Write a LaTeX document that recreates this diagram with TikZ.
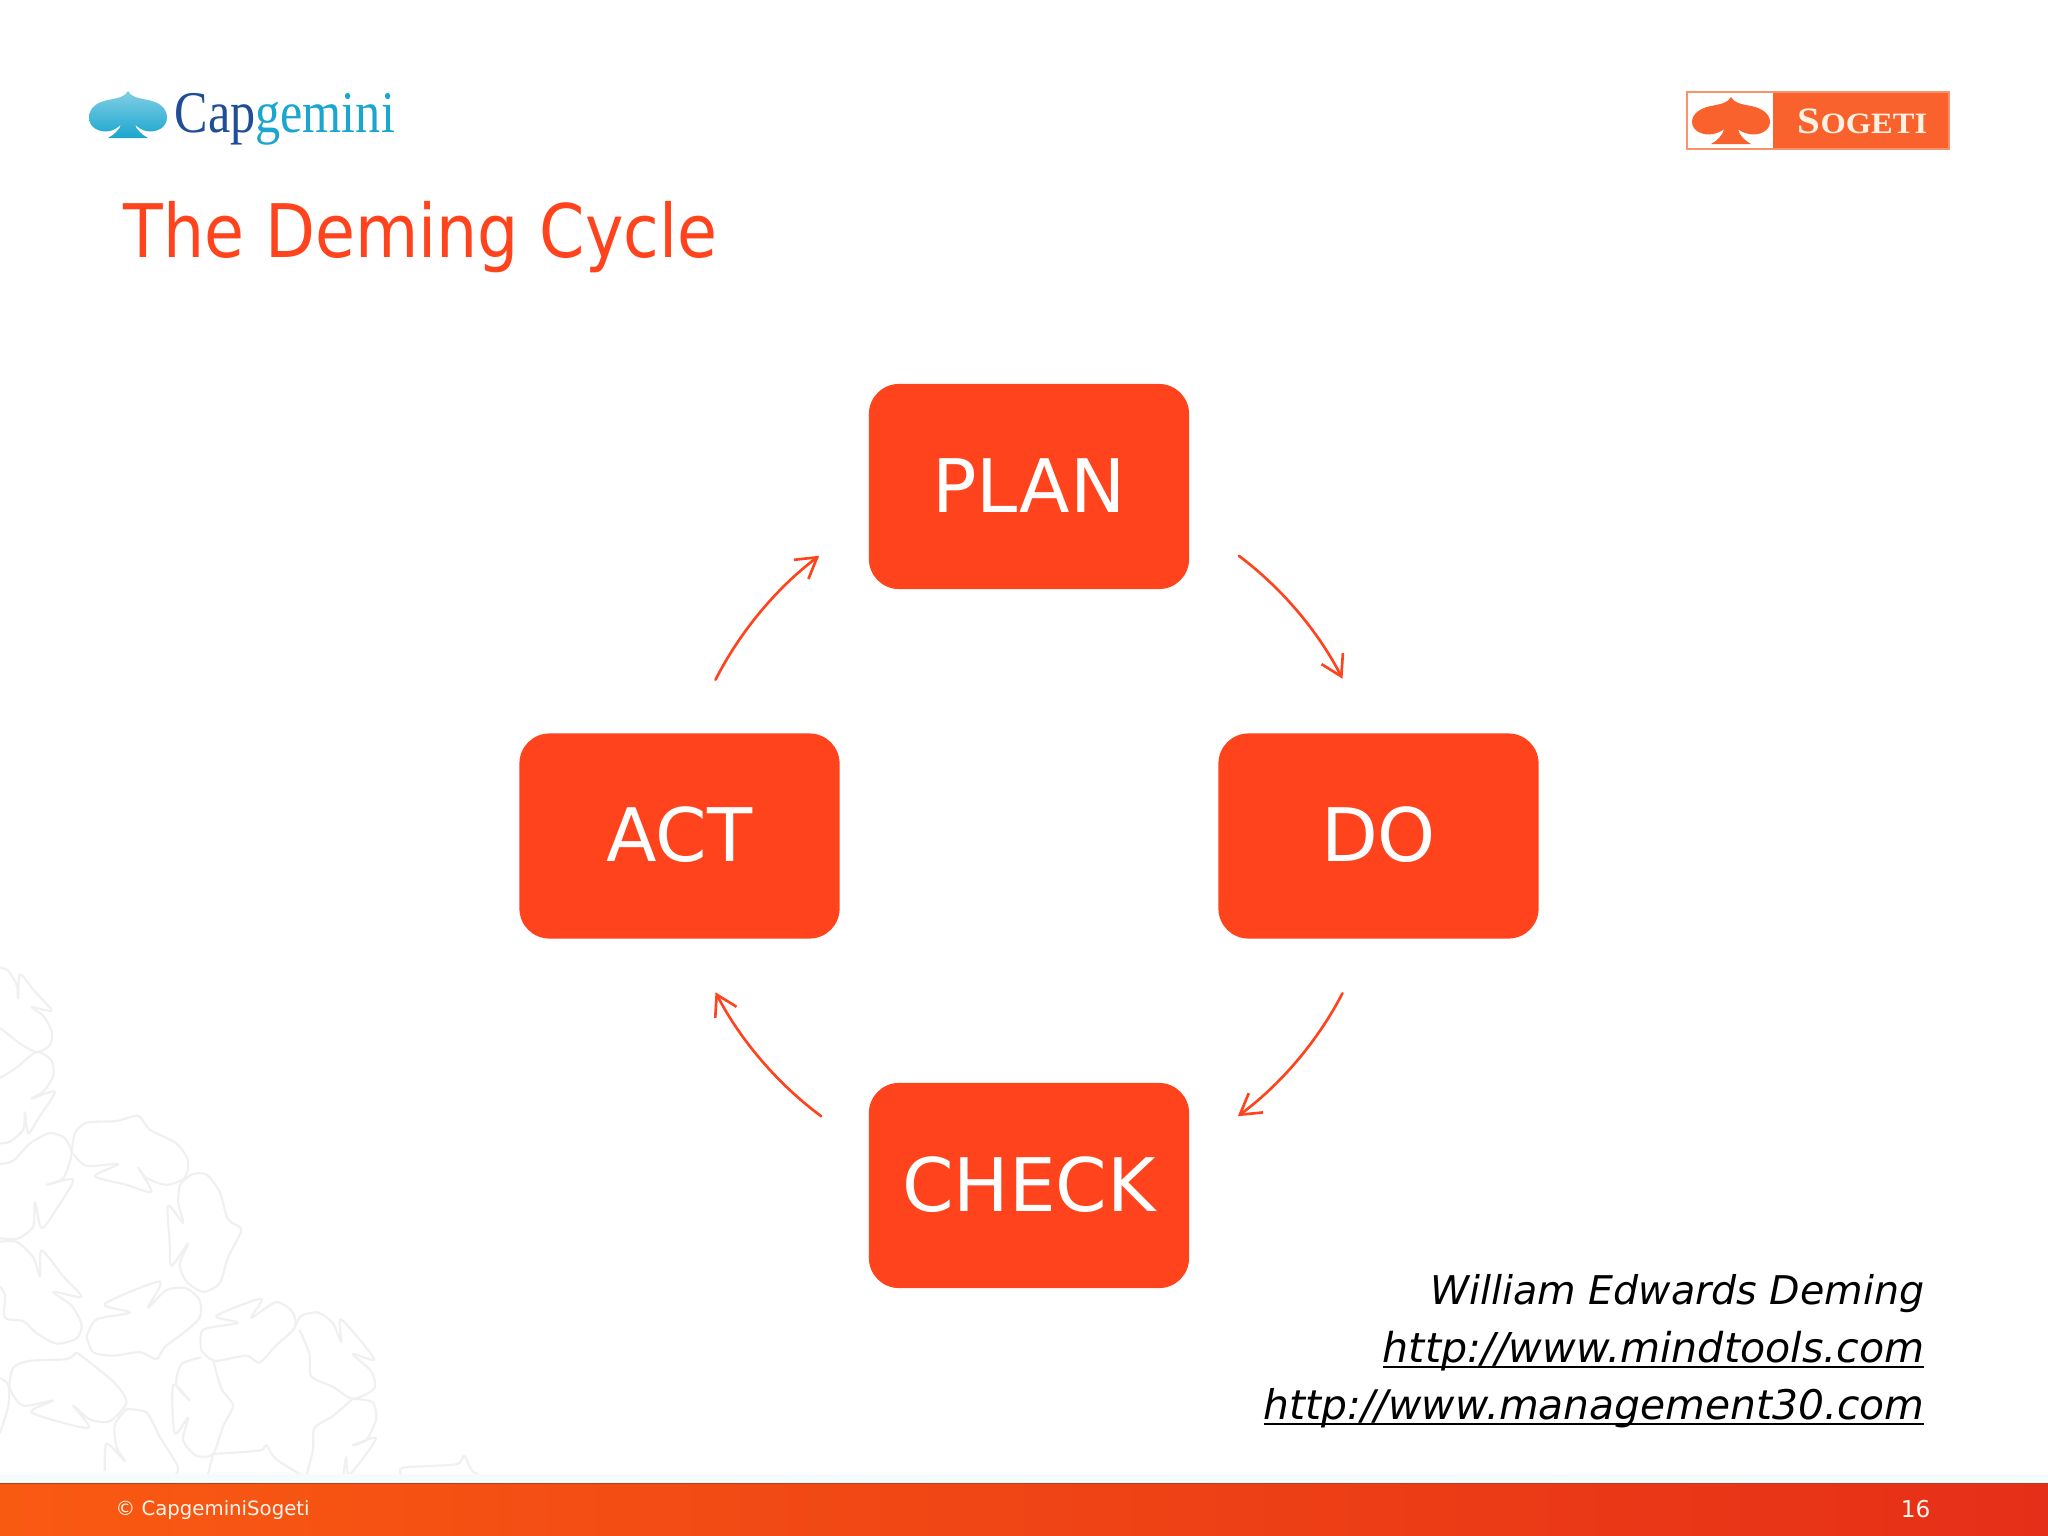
\documentclass[tikz,border=0pt]{standalone}
\usepackage{fontspec}
\usetikzlibrary{arrows.meta,calc,positioning}
\setmainfont{DejaVu Sans}
\newfontfamily\titlefont[FakeStretch=0.88]{DejaVu Sans}
\newfontfamily\logofont{Liberation Serif}
\definecolor{slideorange}{HTML}{FF431C}
\definecolor{capdark}{HTML}{1F4E96}
\definecolor{caplight}{HTML}{1BA6CF}
\definecolor{sogorange}{HTML}{F9622C}
\definecolor{swirlgrey}{HTML}{F0F0F0}
\definecolor{footleft}{HTML}{F95A12}
\definecolor{footmid}{HTML}{EC5520}
\definecolor{footright}{HTML}{E62F18}
% spade of both logos: x pos, y pos, fill options, extra lobe depth
\newcommand{\spadeicon}[4]{
  \path[#3, shift={(#1,#2)}] (0,0) .. controls (3,6) and (10,7) .. (20,9)
    .. controls (31,11) and (39,17) .. (39,{24+#4/2})
    .. controls (39,{32+#4}) and (28,{37+#4}) .. (18,{35+#4})
    .. controls (13,{34+#4}) and (9,{33+#4/2}) .. (7,{31+#4/2})
    .. controls (8,38) and (14,44) .. (20,47) -- (-20,47)
    .. controls (-14,44) and (-8,38) .. (-7,{31+#4/2})
    .. controls (-9,{33+#4/2}) and (-13,{34+#4}) .. (-18,{35+#4})
    .. controls (-28,{37+#4}) and (-39,{32+#4}) .. (-39,{24+#4/2})
    .. controls (-39,17) and (-31,11) .. (-20,9)
    .. controls (-10,7) and (-3,6) .. (0,0) -- cycle;
}
\tikzset{
  cyclebox/.style={rectangle, rounded corners=0.3cm, fill=slideorange, text=white,
    minimum width=3.2cm, minimum height=2.05cm, inner sep=0pt,
    text height=0.54cm, text depth=0.03cm, font=\fontsize{21}{25}\selectfont},
  cyclearrow/.style={draw=slideorange, line width=0.75pt, line cap=round, bend left=13, looseness=0.85,
    -{Straight Barb[length=2mm, width=2.4mm, line width=0.75pt]}},
  swirl/.style={draw=swirlgrey, line width=0.6pt, line join=round, smooth, tension=0.45},
  refline/.style={anchor=base east, inner sep=0pt, font=\itshape\fontsize{11.25}{13}\selectfont}
}
\begin{document}
\begin{tikzpicture}[x=0.01cm, y=-0.01cm]
  \def\hubx{1029}
  \def\huby{836}
  \def\hubr{349.5}

  % Fixed bounding box
  \path[use as bounding box, fill=white] (0,0) rectangle (2048,1536);

  % Faint swirl in the lower left corner
  \begin{scope}[x=0.00333cm, y=-0.00345cm, shift={(0,2754)}]
    \clip (0,0) rectangle (1560,1545);
    \draw[swirl] plot coordinates {(0,50) (25,60) (50,100) (55,140) (60,70) (105,120) (155,175) (95,165) (130,190) (155,235) (150,275) (110,295) (60,270) (0,225)};
    \draw[swirl] plot coordinates {(0,370) (50,340) (110,295) (155,320) (160,365) (130,410) (95,430) (165,410) (120,480) (85,530) (75,470) (70,520) (30,555) (0,560)};
    \draw[swirl] plot coordinates {(0,620) (40,610) (90,560) (150,530) (195,545) (215,590) (190,660) (140,680) (220,665) (170,750) (125,805) (105,730) (100,800) (55,835) (0,835)};
    \draw[swirl] plot coordinates {(215,590) (225,530) (260,500) (350,495) (415,480) (450,520) (530,560) (565,610) (555,660) (500,680) (440,660) (415,630) (455,700) (380,680) (285,655) (355,620) (260,625) (220,590)};
    \draw[swirl] plot coordinates {(0,845) (50,845) (100,890) (120,945) (125,870) (190,945) (245,1005) (160,990) (215,1030) (245,1085) (230,1125) (170,1140) (110,1110) (70,1075) (15,1065) (15,1000) (0,975)};
    \draw[swirl] plot coordinates {(540,680) (535,730) (550,790) (505,740) (510,850) (515,915) (565,850) (540,910) (560,960) (610,990) (660,965) (685,890) (725,810) (685,780) (660,700) (620,650) (575,650) (540,680)};
    \draw[swirl] plot coordinates {(260,1120) (290,1070) (390,1050) (315,1025) (480,960) (445,1035) (500,985) (560,980) (600,1015) (600,1065) (550,1110) (495,1150) (470,1185) (420,1165) (340,1175) (280,1165) (260,1120)};
    \draw[swirl] plot coordinates {(605,1160) (610,1100) (715,1080) (650,1060) (785,1010) (755,1065) (830,1020) (880,1050) (885,1095) (830,1145) (780,1195) (740,1175) (645,1190) (605,1160)};
    \draw[swirl] plot coordinates {(885,1095) (905,1060) (955,1050) (1000,1080) (1025,1135) (1025,1070) (1125,1185) (1060,1170) (1115,1220) (1125,1270) (1060,1300) (1000,1265) (935,1235) (930,1170) (900,1100)};
    \draw[swirl] plot coordinates {(230,1165) (200,1185) (90,1190) (40,1210) (30,1270) (70,1320) (160,1305) (95,1340) (265,1385) (220,1320) (270,1360) (330,1365) (380,1310) (340,1250) (230,1165)};
    \draw[swirl] plot coordinates {(380,1330) (345,1375) (350,1440) (375,1480) (320,1430) (315,1510)};
    \draw[swirl] plot coordinates {(380,1330) (440,1340) (480,1410) (535,1500) (510,1540)};
    \draw[swirl] plot coordinates {(605,1180) (545,1200) (530,1260) (570,1305) (520,1260) (525,1400) (565,1355) (550,1420) (590,1465) (640,1460) (670,1380) (700,1320) (665,1270) (640,1185)};
    \draw[swirl] plot coordinates {(640,1460) (780,1450) (800,1435) (830,1475) (920,1530)};
    \draw[swirl] plot coordinates {(640,1460) (620,1540)};
    \draw[swirl] plot coordinates {(1060,1300) (1120,1310) (1130,1360) (1100,1420) (1060,1435) (1130,1415) (1050,1520) (1040,1470) (1030,1540)};
    \draw[swirl] plot coordinates {(1060,1300) (1000,1350) (945,1385) (940,1450) (915,1540)};
    \draw[swirl] plot coordinates {(1080,1530) (1200,1530) (1210,1500) (1370,1490) (1395,1465) (1420,1510) (1480,1540)};
    \draw[swirl] plot coordinates {(0,1240) (25,1260) (25,1320) (0,1400)};
  \end{scope}

  % Footer band
  \fill[cyan!4] (0,1474) rectangle (2048,1483);
  \shade[left color=footleft, middle color=footmid, right color=footright] (0,1483) rectangle (2048,1536);
  \draw[line width=0.5pt, footmid!75!black] (0,1483.5) -- (2048,1483.5);
  \node[anchor=base west, inner sep=0pt, text=white!92!orange, font=\fontsize{5.6}{7}\selectfont] (copyright) at (115,1515) {\textcopyright{} CapgeminiSogeti};
  \node[anchor=base east, inner sep=0pt, text=white!92!orange, font=\fontsize{6.6}{8}\selectfont] (pagenum) at (1931,1517) {16};

  % Capgemini logo
  \spadeicon{128}{91}{top color=caplight!55, bottom color=caplight}{5}
  \node[anchor=base west, inner sep=0pt, xscale=0.85, font=\logofont\fontsize{16.8}{19}\selectfont] (capgemini) at (174,132)
    {\textcolor{capdark}{Cap}\textcolor{caplight}{gemini}};

  % Sogeti logo
  \fill[sogorange] (1773,92) rectangle (1949,149);
  \draw[sogorange!70, line width=0.5pt] (1687,92) rectangle (1949,149);
  \spadeicon{1731}{97}{fill=sogorange}{2}
  \node[anchor=base west, inner sep=0pt, xscale=1.1, text=white!90!orange, font=\logofont\bfseries] (sogeti) at (1797,133)
    {\fontsize{10.6}{12}\selectfont S\fontsize{8.4}{12}\selectfont OGETI};

  % Title
  \node[anchor=base west, inner sep=0pt, text=slideorange, font=\titlefont\fontsize{21}{25}\selectfont] (title) at (123,257) {The Deming Cycle};

  % The four boxes
  \node[cyclebox] (plan) at (\hubx,{\huby-\hubr}) {PLAN};
  \node[cyclebox] (do) at ({\hubx+\hubr},\huby) {DO};
  \node[cyclebox] (check) at (\hubx,{\huby+\hubr}) {CHECK};
  \node[cyclebox] (act) at ({\hubx-\hubr},\huby) {ACT};

  % Arrow ends, each one a little off its box
  \coordinate (planout) at ($(plan.south east)+(49,-34)$);
  \coordinate (doin) at ($(do.north)+(-36,-54)$);
  \coordinate (doout) at ($(do.south)+(-36,54)$);
  \coordinate (checkin) at ($(check.north east)+(48,34)$);
  \coordinate (checkout) at ($(check.north west)+(-47,34)$);
  \coordinate (actin) at ($(act.south)+(36,53)$);
  \coordinate (actout) at ($(act.north)+(36,-53)$);
  \coordinate (planin) at ($(plan.south west)+(-49,-34)$);

  \foreach \from/\to in {planout/doin, doout/checkin, checkout/actin, actout/planin} {
    \draw[cyclearrow] (\from) to (\to);
  }

  % References
  \node[refline] (deming) at (1925,1304) {William Edwards Deming};
  \node[refline, font=\itshape\fontsize{11.7}{13}\selectfont] (mindtools) at (1925,1362) {\underline{\smash{http://www.mindtools.com}}};
  \node[refline, font=\itshape\fontsize{11.6}{13}\selectfont] (management) at (1925,1419) {\underline{\smash{http://www.management30.com}}};
\end{tikzpicture}
\end{document}
